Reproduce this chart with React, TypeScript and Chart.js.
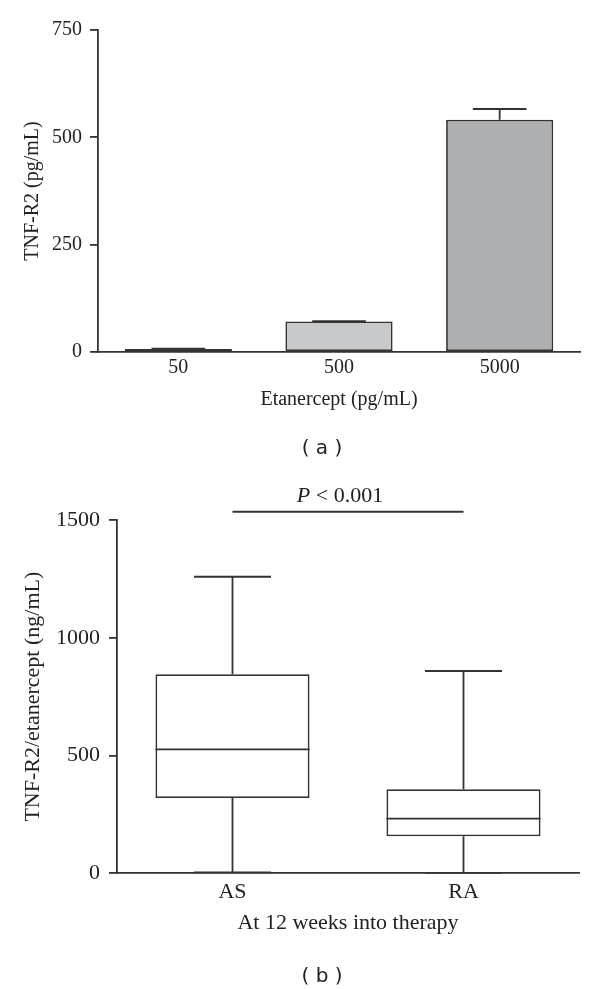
import React, { useEffect, useRef } from "react";
import { Chart, registerables } from "chart.js";

Chart.register(...registerables);

// ---------- Panel (a) data ----------
const concCategories = ["50", "500", "5000"];
const tnfMeans = [7, 71, 541];
const tnfErrors = [1, 1, 25];
const barColors = ["#ffffff", "#c8c9cb", "#aeafb1"];
const yTicksA = [0, 250, 500, 750];

// ---------- Panel (b) data ----------
const groupCategories = ["AS", "RA"];
const whiskerMin = [4, 2];
const quartile1 = [320, 157];
const medians = [526, 232];
const quartile3 = [845, 357];
const whiskerMax = [1259, 859];
const yTicksB = [0, 500, 1000, 1500];
const sigLevel = 1535;
const sigLabel = ["P", " < 0.001"];

const LINE = "#333333";
const TEXT = "#222222";
const LW = 1.8;
const SERIF = "'Liberation Serif', 'Times New Roman', serif";

const errorBarPlugin = {
  id: "errorBars",
  afterDatasetsDraw(chart: any) {
    const { ctx } = chart;
    const y = chart.scales.y;
    const meta = chart.getDatasetMeta(0);
    ctx.save();
    ctx.strokeStyle = LINE;
    ctx.lineWidth = LW;
    meta.data.forEach((el: any, i: number) => {
      const top = y.getPixelForValue(tnfMeans[i] + tnfErrors[i]);
      const half = el.width / 4;
      ctx.beginPath();
      ctx.moveTo(el.x, el.y);
      ctx.lineTo(el.x, top);
      ctx.moveTo(el.x - half, top);
      ctx.lineTo(el.x + half, top);
      ctx.stroke();
    });
    ctx.restore();
  },
};

const boxPlugin = {
  id: "boxWhiskers",
  afterDatasetsDraw(chart: any) {
    const { ctx } = chart;
    const y = chart.scales.y;
    const meta = chart.getDatasetMeta(0);
    ctx.save();
    ctx.strokeStyle = LINE;
    ctx.lineWidth = LW;
    meta.data.forEach((el: any, i: number) => {
      const x = el.x;
      const w = el.width;
      const cap = w / 4;
      const pMax = y.getPixelForValue(whiskerMax[i]);
      const pMin = y.getPixelForValue(whiskerMin[i]);
      const pQ1 = y.getPixelForValue(quartile1[i]);
      const pQ3 = y.getPixelForValue(quartile3[i]);
      const pMed = y.getPixelForValue(medians[i]);
      ctx.beginPath();
      ctx.moveTo(x, pQ3);
      ctx.lineTo(x, pMax);
      ctx.moveTo(x - cap, pMax);
      ctx.lineTo(x + cap, pMax);
      ctx.moveTo(x, pQ1);
      ctx.lineTo(x, pMin);
      ctx.moveTo(x - cap, pMin);
      ctx.lineTo(x + cap, pMin);
      ctx.moveTo(x - w / 2, pMed);
      ctx.lineTo(x + w / 2, pMed);
      ctx.stroke();
    });
    ctx.restore();
  },
};

const sigPlugin = {
  id: "significance",
  afterDraw(chart: any) {
    const { ctx } = chart;
    const x = chart.scales.x;
    const y = chart.scales.y;
    const x0 = x.getPixelForValue(0);
    const x1 = x.getPixelForValue(1);
    const py = y.getPixelForValue(sigLevel);
    ctx.save();
    ctx.strokeStyle = LINE;
    ctx.lineWidth = LW;
    ctx.beginPath();
    ctx.moveTo(x0, py);
    ctx.lineTo(x1, py);
    ctx.stroke();
    const italic = `italic 22px ${SERIF}`;
    const normal = `22px ${SERIF}`;
    ctx.font = italic;
    const w1 = ctx.measureText(sigLabel[0]).width;
    ctx.font = normal;
    const w2 = ctx.measureText(sigLabel[1]).width;
    const cx = (x0 + x1) / 2 - 8;
    const start = cx - (w1 + w2) / 2;
    ctx.fillStyle = TEXT;
    ctx.textBaseline = "alphabetic";
    ctx.textAlign = "left";
    ctx.font = italic;
    ctx.fillText(sigLabel[0], start, py - 10);
    ctx.font = normal;
    ctx.fillText(sigLabel[1], start + w1, py - 10);
    ctx.restore();
  },
};

function makeYAxis(ticks: number[], title: string, size: number, width: number, titlePad: number, tickPad: number) {
  return {
    min: ticks[0],
    max: ticks[ticks.length - 1],
    afterBuildTicks: (s: any) => {
      s.ticks = ticks.map((v) => ({ value: v }));
    },
    grid: { drawOnChartArea: false, drawTicks: true, tickLength: 8, color: LINE, lineWidth: LW },
    border: { display: true, color: LINE, width: LW },
    ticks: {
      padding: tickPad,
      color: TEXT,
      font: { family: SERIF, size },
      callback: (v: any) => String(v),
    },
    title: {
      display: true,
      text: title,
      color: TEXT,
      font: { family: SERIF, size },
      padding: { top: titlePad, bottom: 0 },
    },
    afterFit: (s: any) => {
      s.width = width;
    },
  };
}

function makeXAxis(title: string, size: number, height: number, tickPad: number, titleBottom: number) {
  return {
    grid: { display: false, drawTicks: false },
    border: { display: true, color: LINE, width: LW },
    ticks: { padding: tickPad, color: TEXT, font: { family: SERIF, size } },
    title: {
      display: true,
      text: title,
      color: TEXT,
      font: { family: SERIF, size },
      padding: { top: 0, bottom: titleBottom },
    },
    afterFit: (s: any) => {
      s.height = height;
    },
  };
}

export default function App() {
  const refA = useRef<HTMLCanvasElement>(null);
  const refB = useRef<HTMLCanvasElement>(null);

  useEffect(() => {
    const chartA = new Chart(refA.current!, {
      type: "bar",
      data: {
        labels: concCategories,
        datasets: [
          {
            data: tnfMeans,
            backgroundColor: barColors,
            borderColor: LINE,
            borderWidth: LW,
            borderSkipped: false,
            barPercentage: 0.667,
            categoryPercentage: 1,
          },
        ],
      },
      options: {
        animation: false,
        responsive: false,
        devicePixelRatio: 1,
        layout: { padding: { top: 30, right: 20, bottom: 0, left: 0 } },
        plugins: { legend: { display: false }, tooltip: { enabled: false } },
        scales: {
          x: makeXAxis("Etanercept (pg/mL)", 20, 118, 4, 58) as any,
          y: makeYAxis(yTicksA, "TNF-R2 (pg/mL)", 20, 98, 21, 8) as any,
        },
      },
      plugins: [errorBarPlugin],
    });

    const chartB = new Chart(refB.current!, {
      type: "bar",
      data: {
        labels: groupCategories,
        datasets: [
          {
            data: quartile1.map((v, i) => [v, quartile3[i]]) as any,
            backgroundColor: "#ffffff",
            borderColor: LINE,
            borderWidth: LW,
            borderSkipped: false,
            barPercentage: 0.667,
            categoryPercentage: 1,
          },
        ],
      },
      options: {
        animation: false,
        responsive: false,
        devicePixelRatio: 1,
        layout: { padding: { top: 50, right: 21, bottom: 0, left: 0 } },
        plugins: { legend: { display: false }, tooltip: { enabled: false } },
        scales: {
          x: makeXAxis("At 12 weeks into therapy", 22, 115.7, 5.5, 53) as any,
          y: makeYAxis(yTicksB, "TNF-R2/etanercept (ng/mL)", 22, 117, 20, 9) as any,
        },
      },
      plugins: [boxPlugin, sigPlugin],
    });

    return () => {
      chartA.destroy();
      chartB.destroy();
    };
  }, []);

  const caption = (text: string, centerY: number) => (
    <div
      style={{
        position: "absolute",
        left: 272,
        width: 100,
        top: centerY - 12,
        height: 24,
        lineHeight: "24px",
        textAlign: "center",
        fontFamily: "'DejaVu Sans', Verdana, sans-serif",
        fontSize: 20,
        color: TEXT,
        whiteSpace: "pre",
      }}
    >
      {text}
    </div>
  );

  return (
    <div style={{ position: "absolute", left: 0, top: 0, width: 600, height: 989, background: "#ffffff" }}>
      <canvas ref={refA} width={600} height={470} style={{ position: "absolute", left: 0, top: 0, display: "block" }} />
      <canvas ref={refB} width={600} height={519} style={{ position: "absolute", left: 0, top: 470, display: "block" }} />
      {caption("( a )", 447)}
      {caption("( b )", 975)}
    </div>
  );
}
